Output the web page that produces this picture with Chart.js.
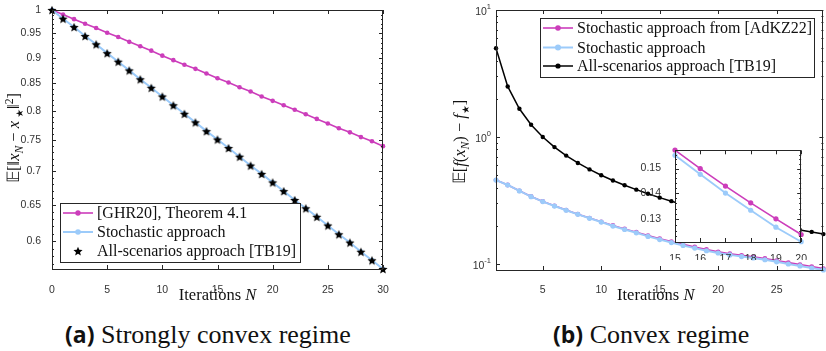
<!DOCTYPE html>
<html>
<head>
<meta charset="utf-8">
<script src="https://cdn.jsdelivr.net/npm/chart.js@4.4.1/dist/chart.umd.min.js"></script>
<style>
  body { margin: 0; background: #fff; width: 826px; height: 351px; overflow: hidden; position: relative; }
  .box { position: absolute; }
  .cap { position: absolute; top: 318px; font-family: "Liberation Serif", serif; font-size: 26px; white-space: nowrap; color: #111; }
  .cap b { font-family: "Open Sans", sans-serif; font-weight: 700; font-size: 23px; }
</style>
</head>
<body>
<div class="box" style="left:0;top:0;width:410px;height:305px"><canvas id="chartA"></canvas></div>
<div class="box" style="left:420px;top:0;width:406px;height:305px"><canvas id="chartB"></canvas></div>
<div class="box" style="left:638px;top:138px;width:172px;height:122px"><canvas id="chartInset"></canvas></div>
<div class="cap" style="left:65px"><b>(a)</b> Strongly convex regime</div>
<div class="cap" style="left:553px"><b>(b)</b> Convex regime</div>
<script>
  // (a) strongly convex regime
  var iterA = [0,1,2,3,4,5,6,7,8,9,10,11,12,13,14,15,16,17,18,19,20,21,22,23,24,25,26,27,28,29,30];
  var ghr20A = [1,0.990,0.980,0.970,0.961,0.951,0.942,0.932,0.923,0.914,0.904,0.895,0.886,0.878,0.869,0.860,
                0.852,0.843,0.835,0.826,0.818,0.810,0.802,0.794,0.786,0.778,0.770,0.763,0.755,0.748,0.740];
  var stochA = [1,0.981,0.963,0.944,0.927,0.909,0.892,0.875,0.858,0.842,0.826,0.810,0.795,0.780,0.765,0.751,
                0.737,0.723,0.709,0.696,0.683,0.670,0.657,0.645,0.633,0.621,0.609,0.598,0.586,0.575,0.564];
  var tb19A = [1,0.981,0.963,0.944,0.927,0.909,0.892,0.875,0.858,0.842,0.826,0.810,0.795,0.780,0.765,0.751,
               0.737,0.723,0.709,0.696,0.683,0.670,0.657,0.645,0.633,0.621,0.609,0.598,0.586,0.575,0.564];
  var xTicksA = [0,5,10,15,20,25,30];
  var yTicksA = [0.6,0.65,0.7,0.75,0.8,0.85,0.9,0.95,1];

  // (b) convex regime
  var iterB = [1,2,3,4,5,6,7,8,9,10,11,12,13,14,15,16,17,18,19,20,21,22,23,24,25,26,27,28,29,30];
  var adkz22B = [0.458,0.419,0.377,0.340,0.311,0.287,0.266,0.247,0.230,0.215,0.201,0.189,0.178,0.1675,0.158,
                 0.150,0.1428,0.1362,0.1302,0.1246,0.1205,0.117,0.114,0.1105,0.1065,0.1025,0.099,0.0955,0.092,0.089];
  var stochB = [0.458,0.419,0.376,0.339,0.310,0.286,0.265,0.246,0.229,0.214,0.199,0.187,0.176,0.165,0.1557,
                0.1476,0.140,0.1334,0.1272,0.1221,0.118,0.1145,0.1115,0.108,0.104,0.100,0.0965,0.093,0.0898,0.0868];
  var tb19B = [5.0,2.5,1.667,1.25,1.0,0.833,0.714,0.625,0.556,0.5,0.455,0.417,0.385,0.357,0.333,
               0.3125,0.294,0.278,0.263,0.25,0.238,0.227,0.217,0.208,0.2,0.192,0.185,0.179,0.172,0.167];
  var xTicksB = [5,10,15,20,25];
  var yTicksB = [0.1,1,10];
  var yExpB = ['-1','0','1'];
  var xTicksInset = [15,16,17,18,19,20];
  var yTicksInset = [0.13,0.14,0.15];

  var MAGENTA = '#cc3dbb';
  var LIGHTBLUE = '#9ccbfa';
  var TICKFONT = { family: 'Liberation Sans, Arial, sans-serif', size: 10.5 };
  var SERIF = '"Liberation Serif", serif';

  function pts(xs, ys) {
    return ys.map(function (y, i) { return { x: xs[i], y: y }; });
  }

  function starImage(r) {
    var c = document.createElement('canvas');
    var s = Math.ceil(r * 2 + 2);
    c.width = c.height = s;
    var g = c.getContext('2d');
    g.translate(s / 2, s / 2 + 0.6);
    g.beginPath();
    for (var i = 0; i < 10; i++) {
      var rad = i % 2 ? r * 0.45 : r;
      var a = -Math.PI / 2 + i * Math.PI / 5;
      g.lineTo(rad * Math.cos(a), rad * Math.sin(a));
    }
    g.closePath();
    g.fillStyle = '#000';
    g.fill();
    return c;
  }
  var star = starImage(4.8);

  // rich text (italic / sub / sup pieces), optionally rotated
  function drawRich(ctx, parts, cx, cy, size, rotate) {
    ctx.save();
    ctx.translate(cx, cy);
    if (rotate) ctx.rotate(-Math.PI / 2);
    var fonts = parts.map(function (p) {
      var s = p.scale ? size * p.scale : ((p.sub || p.sup) ? size * 0.7 : size);
      return (p.it ? 'italic ' : '') + s + 'px ' + (p.fam || SERIF);
    });
    var w = 0;
    parts.forEach(function (p, i) { ctx.font = fonts[i]; w += ctx.measureText(p.t).width; });
    var x = -w / 2;
    ctx.fillStyle = '#111';
    ctx.textBaseline = 'alphabetic';
    parts.forEach(function (p, i) {
      ctx.font = fonts[i];
      var dy = p.sub ? size * 0.22 : (p.sup ? -size * 0.4 : 0);
      ctx.fillText(p.t, x, size * 0.33 + dy);
      x += ctx.measureText(p.t).width;
    });
    ctx.restore();
  }

  var framePlugin = {
    id: 'frame',
    beforeDraw: function (chart, args, o) {
      if (!o.fill) return;
      var a = chart.chartArea, ctx = chart.ctx;
      ctx.save();
      ctx.fillStyle = '#fff';
      ctx.fillRect(a.left, a.top, a.right - a.left, a.bottom - a.top);
      ctx.restore();
    },
    afterDraw: function (chart, args, o) {
      var a = chart.chartArea, ctx = chart.ctx;
      var xs = chart.scales.x, ys = chart.scales.y;
      ctx.save();
      ctx.strokeStyle = '#262626';
      ctx.lineWidth = 1;
      ctx.beginPath();
      function xt(v, len) {
        var p = Math.round(xs.getPixelForValue(v)) + 0.5;
        ctx.moveTo(p, a.bottom); ctx.lineTo(p, a.bottom - len);
        ctx.moveTo(p, a.top); ctx.lineTo(p, a.top + len);
      }
      function yt(v, len) {
        var p = Math.round(ys.getPixelForValue(v)) + 0.5;
        ctx.moveTo(a.left, p); ctx.lineTo(a.left + len, p);
        ctx.moveTo(a.right, p); ctx.lineTo(a.right - len, p);
      }
      (o.xMajor || []).forEach(function (v) { xt(v, 4); });
      (o.yMajor || []).forEach(function (v) { yt(v, 4); });
      (o.yMinor || []).forEach(function (v) { yt(v, 2); });
      ctx.stroke();
      ctx.strokeRect(Math.round(a.left) + 0.5, Math.round(a.top) + 0.5,
        Math.round(a.right - a.left) - 1, Math.round(a.bottom - a.top));
      ctx.restore();

      // power-of-ten tick labels
      if (o.yExp) {
        ctx.save();
        ctx.fillStyle = '#333';
        ctx.textBaseline = 'alphabetic';
        o.yMajor.forEach(function (v, i) {
          var p = ys.getPixelForValue(v);
          ctx.font = '7.5px Liberation Sans, Arial, sans-serif';
          var we = ctx.measureText(o.yExp[i]).width;
          ctx.font = '10.5px Liberation Sans, Arial, sans-serif';
          var wb = ctx.measureText('10').width;
          var xr = a.left - 5;
          ctx.fillText('10', xr - we - wb, p + 5);
          ctx.font = '7.5px Liberation Sans, Arial, sans-serif';
          ctx.fillText(o.yExp[i], xr - we, p - 1);
        });
        ctx.restore();
      }

      if (o.xTitle) drawRich(ctx, o.xTitle, (a.left + a.right) / 2 + (o.xTitleShift || 0), o.xTitleY, 16.5, false);
      if (o.yTitle) drawRich(ctx, o.yTitle, o.yTitleX, o.yTitleY, 16.5, true);

      // legend
      var L = o.legend;
      if (!L) return;
      ctx.save();
      ctx.fillStyle = '#fff';
      ctx.fillRect(L.x, L.y, L.w, L.h);
      ctx.strokeStyle = '#262626';
      ctx.lineWidth = 1;
      ctx.strokeRect(L.x + 0.5, L.y + 0.5, L.w, L.h);
      ctx.font = '16px ' + SERIF;
      ctx.textBaseline = 'middle';
      chart.data.datasets.forEach(function (ds, i) {
        var cy = L.rows[i];
        var x0 = L.sx, x1 = L.sx + 30, cx = (x0 + x1) / 2;
        if (ds.showLine !== false) {
          ctx.strokeStyle = ds.borderColor;
          ctx.lineWidth = ds.borderWidth;
          ctx.beginPath(); ctx.moveTo(x0, cy); ctx.lineTo(x1, cy); ctx.stroke();
        }
        if (ds.pointStyle && ds.pointStyle.getContext) {
          ctx.drawImage(ds.pointStyle, cx - ds.pointStyle.width / 2, cy - ds.pointStyle.height / 2);
        } else {
          ctx.fillStyle = ds.pointBackgroundColor;
          ctx.beginPath(); ctx.arc(cx, cy, ds.pointRadius + 0.4, 0, Math.PI * 2); ctx.fill();
        }
        ctx.fillStyle = '#111';
        ctx.fillText(ds.label, L.tx, cy + 1);
      });
      ctx.restore();
    }
  };

  function setTicks(list) {
    return function (axis) { axis.ticks = list.map(function (v) { return { value: v }; }); };
  }
  function fixW(w) { return function (s) { s.width = w; }; }
  function fixH(h) { return function (s) { s.height = h; }; }

  var minorA = [];
  for (var k = 57; k <= 99; k++) if (k % 5 !== 0) minorA.push(k / 100);
  var minorB = [0.09];
  [0.1, 1].forEach(function (d) { for (var m = 2; m <= 9; m++) minorB.push(m * d); });
  var minorInset = [];
  for (var q = 123; q <= 157; q++) if (q % 10 !== 0 && q % 2 === 0) minorInset.push(q / 1000);

  function lineSet(label, xs, ys, color, width, radius, order) {
    return {
      label: label, data: pts(xs, ys), borderColor: color, backgroundColor: color,
      borderWidth: width, pointRadius: radius, pointBackgroundColor: color,
      pointBorderWidth: 0, pointHoverRadius: radius, order: order, clip: false
    };
  }

  var common = {
    animation: false, responsive: true, maintainAspectRatio: false, events: []
  };

  // chart (a)
  new Chart(document.getElementById('chartA'), {
    type: 'line',
    data: {
      datasets: [
        lineSet('[GHR20], Theorem 4.1', iterA, ghr20A, MAGENTA, 1.6, 2.3, 3),
        lineSet('Stochastic approach', iterA, stochA, LIGHTBLUE, 2, 2.4, 2),
        {
          label: 'All-scenarios approach [TB19]', data: pts(iterA, tb19A), showLine: false,
          pointStyle: star, borderColor: '#000', pointBackgroundColor: '#000', order: 1, clip: false
        }
      ]
    },
    options: Object.assign({}, common, {
      layout: { padding: { left: 0, right: 27, top: 10, bottom: 0 } },
      scales: {
        x: {
          type: 'linear', min: 0, max: 30,
          grid: { display: false }, border: { display: false },
          afterBuildTicks: setTicks(xTicksA), afterFit: fixH(36),
          ticks: { font: TICKFONT, color: '#333', padding: 7, autoSkip: false, maxRotation: 0 }
        },
        y: {
          type: 'logarithmic', min: 0.564, max: 1,
          grid: { display: false }, border: { display: false },
          afterBuildTicks: setTicks(yTicksA), afterFit: fixW(52),
          ticks: { font: TICKFONT, color: '#333', padding: 3, autoSkip: false, callback: function (v) { return String(v); } }
        }
      },
      plugins: {
        legend: { display: false }, tooltip: { enabled: false },
        frame: {
          xMajor: xTicksA, yMajor: yTicksA, yMinor: minorA,
          xTitle: [{ t: 'Iterations ' }, { t: 'N', it: true }], xTitleY: 295,
          yTitle: [{ t: '\uD835\uDD3C[\u2016' }, { t: 'x', it: true }, { t: 'N', it: true, sub: true },
                   { t: ' \u2212 ' }, { t: 'x', it: true }, { t: ' \u2605', sub: true, scale: 0.6, fam: '"DejaVu Sans", sans-serif' },
                   { t: '\u2016' }, { t: '2', sup: true }, { t: ']' }],
          yTitleX: 14, yTitleY: 138,
          legend: { x: 60, y: 203, w: 240, h: 59, rows: [213, 232, 251], sx: 63, tx: 97 }
        }
      }
    }),
    plugins: [framePlugin]
  });

  // chart (b)
  new Chart(document.getElementById('chartB'), {
    type: 'line',
    data: {
      datasets: [
        lineSet('Stochastic approach from [AdKZ22]', iterB, adkz22B, MAGENTA, 1.6, 2.4, 3),
        lineSet('Stochastic approach', iterB, stochB, LIGHTBLUE, 2, 2.6, 2),
        lineSet('All-scenarios approach [TB19]', iterB, tb19B, '#000', 1.5, 2.2, 1)
      ]
    },
    options: Object.assign({}, common, {
      layout: { padding: { left: 0, right: 0, top: 10, bottom: 0 } },
      scales: {
        x: {
          type: 'linear', min: 1, max: 29,
          grid: { display: false }, border: { display: false },
          afterBuildTicks: setTicks(xTicksB), afterFit: fixH(35),
          ticks: { font: TICKFONT, color: '#333', padding: 6, autoSkip: false, maxRotation: 0 }
        },
        y: {
          type: 'logarithmic', min: 0.0897, max: 10,
          grid: { display: false }, border: { display: false },
          afterBuildTicks: setTicks(yTicksB), afterFit: fixW(76),
          ticks: { display: true, font: TICKFONT, autoSkip: false, callback: function () { return ''; } }
        }
      },
      plugins: {
        legend: { display: false }, tooltip: { enabled: false },
        frame: {
          xMajor: xTicksB, yMajor: yTicksB, yMinor: minorB, yExp: yExpB,
          xTitle: [{ t: 'Iterations ' }, { t: 'N', it: true }], xTitleY: 295, xTitleShift: -4,
          yTitle: [{ t: '\uD835\uDD3C[' }, { t: 'f', it: true }, { t: '(' }, { t: 'x', it: true }, { t: 'N', it: true, sub: true },
                   { t: ') \u2212 ' }, { t: 'f', it: true }, { t: '\u2605', sub: true, scale: 0.6, fam: '"DejaVu Sans", sans-serif' }, { t: ']' }],
          yTitleX: 40, yTitleY: 142,
          legend: { x: 120, y: 18, w: 274, h: 59, rows: [28, 47.5, 66], sx: 123, tx: 157 }
        }
      }
    }),
    plugins: [framePlugin]
  });

  // inset of (b), iterations 15..20
  new Chart(document.getElementById('chartInset'), {
    type: 'line',
    data: {
      datasets: [
        lineSet('Stochastic approach from [AdKZ22]', iterB.slice(14, 20), adkz22B.slice(14, 20), MAGENTA, 1.6, 2.6, 2),
        lineSet('Stochastic approach', iterB.slice(14, 20), stochB.slice(14, 20), LIGHTBLUE, 1.8, 2.6, 1)
      ]
    },
    options: Object.assign({}, common, {
      layout: { padding: { left: 0, right: 7, top: 8, bottom: 0 } },
      scales: {
        x: {
          type: 'linear', min: 15, max: 20,
          grid: { display: false }, border: { display: false },
          afterBuildTicks: setTicks(xTicksInset), afterFit: fixH(18),
          ticks: { font: TICKFONT, color: '#333', padding: 3, autoSkip: false, maxRotation: 0 }
        },
        y: {
          type: 'logarithmic', min: 0.1221, max: 0.1579,
          grid: { display: false }, border: { display: false },
          afterBuildTicks: setTicks(yTicksInset), afterFit: fixW(37),
          ticks: { font: TICKFONT, color: '#333', padding: 6, autoSkip: false, callback: function (v) { return String(v); } }
        }
      },
      plugins: {
        legend: { display: false }, tooltip: { enabled: false },
        frame: { fill: true, xMajor: xTicksInset, yMajor: yTicksInset, yMinor: minorInset }
      }
    }),
    plugins: [framePlugin]
  });
</script>
</body>
</html>
